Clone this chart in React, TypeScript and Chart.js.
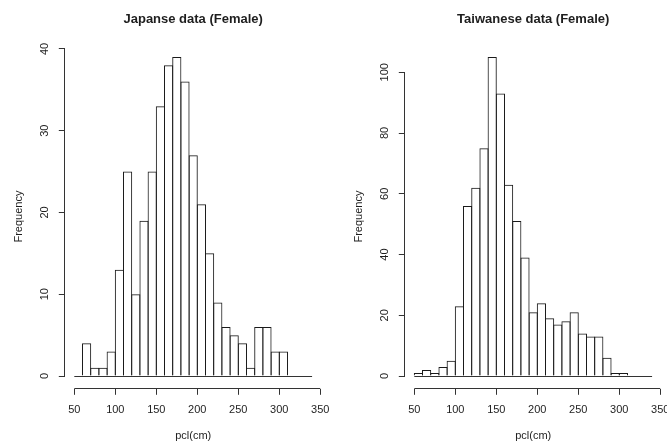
import React, { useEffect, useRef } from "react";
import { Chart, registerables } from "chart.js";

Chart.register(...registerables);

// ---- data ----
const binStarts = [50, 60, 70, 80, 90, 100, 110, 120, 130, 140, 150, 160, 170, 180, 190, 200, 210, 220, 230, 240, 250, 260, 270, 280, 290, 300, 310, 320, 330];
const binWidth = 10;
const japaneseCounts = [0, 4, 1, 1, 3, 13, 25, 10, 19, 25, 33, 38, 39, 36, 27, 21, 15, 9, 6, 5, 4, 1, 6, 6, 3, 3, 0, 0, 0];
const taiwaneseCounts = [1, 2, 1, 3, 5, 23, 56, 62, 75, 105, 93, 63, 51, 39, 21, 24, 19, 17, 18, 21, 14, 13, 13, 6, 1, 1, 0, 0, 0];
const xTickValues = [50, 100, 150, 200, 250, 300, 350];
const japaneseYTicks = [0, 10, 20, 30, 40];
const taiwaneseYTicks = [0, 20, 40, 60, 80, 100];
const japaneseTitle = "Japanse data (Female)";
const taiwaneseTitle = "Taiwanese data (Female)";
const xLabel = "pcl(cm)";
const yLabel = "Frequency";

const FONT = '"Liberation Sans", Arial, sans-serif';
const TEXT = "#1e1e1e";
const LINE = "#333333";

function alignPx(v: number) {
  return Math.round(v - 0.5) + 0.5;
}

const rAxesPlugin = {
  id: "rAxes",
  afterDraw(chart: any, _args: any, opts: any) {
    const { ctx, chartArea, scales } = chart;
    const x = scales.x;
    const y = scales.y;
    ctx.save();
    ctx.strokeStyle = LINE;
    ctx.lineWidth = 1;
    ctx.beginPath();
    const xt = x.ticks;
    const ax = alignPx(chartArea.bottom);
    ctx.moveTo(x.getPixelForValue(xt[0].value), ax);
    ctx.lineTo(x.getPixelForValue(xt[xt.length - 1].value), ax);
    const yt = y.ticks;
    const ay = alignPx(chartArea.left);
    ctx.moveTo(ay, y.getPixelForValue(yt[0].value));
    ctx.lineTo(ay, y.getPixelForValue(yt[yt.length - 1].value));
    const y0 = alignPx(y.getPixelForValue(0));
    ctx.moveTo(x.getPixelForValue(binStarts[0]), y0);
    ctx.lineTo(x.getPixelForValue(binStarts[binStarts.length - 1] + binWidth), y0);
    ctx.stroke();
    ctx.fillStyle = TEXT;
    ctx.font = `bold 13px ${FONT}`;
    ctx.textAlign = "center";
    ctx.textBaseline = "alphabetic";
    ctx.fillText(opts.text, (chartArea.left + chartArea.right) / 2, 23);
    ctx.restore();
  },
};

function makeConfig(title: string, counts: number[], yTicks: number[], yMin: number, yMax: number, yPad: number): any {
  return {
    type: "bar",
    data: {
      datasets: [
        {
          data: binStarts.map((s, i) => ({ x: s + binWidth / 2, y: counts[i] })),
          backgroundColor: "rgba(255,255,255,0)",
          borderColor: "#1a1a1a",
          borderWidth: 1,
          borderSkipped: "start",
          barPercentage: 1.12,
          categoryPercentage: 1,
          inflateAmount: 0,
        },
      ],
    },
    options: {
      animation: false,
      responsive: false,
      events: [],
      layout: { padding: { top: 44.3, right: 18.4, left: 0, bottom: 0 } },
      plugins: {
        legend: { display: false },
        tooltip: { enabled: false },
        title: { display: false },
        rAxes: { text: title },
      },
      scales: {
        x: {
          type: "linear",
          min: 38.4,
          max: 351.6,
          offset: false,
          afterBuildTicks: (s: any) => {
            s.ticks = xTickValues.map((v) => ({ value: v }));
          },
          afterFit: (s: any) => {
            s.height = 58.2;
          },
          grid: { drawOnChartArea: false, drawTicks: true, tickLength: 6, color: LINE, lineWidth: 1, offset: false },
          border: { display: false },
          ticks: {
            autoSkip: false,
            maxRotation: 0,
            minRotation: 0,
            padding: 8.6,
            color: TEXT,
            font: { family: FONT, size: 11 },
            callback: (v: any) => String(v),
          },
          title: {
            display: true,
            text: xLabel,
            color: TEXT,
            font: { family: FONT, size: 11 },
            padding: { top: 0, bottom: 4 },
          },
        },
        y: {
          type: "linear",
          min: yMin,
          max: yMax,
          afterBuildTicks: (s: any) => {
            s.ticks = yTicks.map((v) => ({ value: v }));
          },
          afterFit: (s: any) => {
            s.width = 64.8;
          },
          grid: { drawOnChartArea: false, drawTicks: true, tickLength: 6, color: LINE, lineWidth: 1 },
          border: { display: false },
          ticks: {
            autoSkip: false,
            minRotation: 90,
            maxRotation: 90,
            crossAlign: "center",
            padding: yPad,
            color: TEXT,
            font: { family: FONT, size: 11 },
            callback: (v: any) => String(v),
          },
          title: {
            display: true,
            text: yLabel,
            color: TEXT,
            font: { family: FONT, size: 11 },
            padding: { top: 11.9, bottom: 0 },
          },
        },
      },
    },
    plugins: [rAxesPlugin],
  };
}

export default function App() {
  const leftRef = useRef<HTMLCanvasElement | null>(null);
  const rightRef = useRef<HTMLCanvasElement | null>(null);

  useEffect(() => {
    const charts: Chart[] = [];
    if (leftRef.current) {
      charts.push(new Chart(leftRef.current, makeConfig(japaneseTitle, japaneseCounts, japaneseYTicks, -1.56, 40.56, 7.9)));
    }
    if (rightRef.current) {
      charts.push(new Chart(rightRef.current, makeConfig(taiwaneseTitle, taiwaneseCounts, taiwaneseYTicks, -4.2, 109.2, 4.8)));
    }
    return () => {
      charts.forEach((c) => c.destroy());
    };
  }, []);

  return (
    <div
      style={{
        position: "fixed",
        left: 0,
        top: 0,
        width: 667,
        height: 447,
        overflow: "hidden",
        background: "#ffffff",
      }}
    >
      <canvas ref={leftRef} width={340} height={447} style={{ position: "absolute", left: 0, top: 0, width: 340, height: 447 }} />
      <canvas ref={rightRef} width={340} height={447} style={{ position: "absolute", left: 340, top: 0, width: 340, height: 447 }} />
    </div>
  );
}
